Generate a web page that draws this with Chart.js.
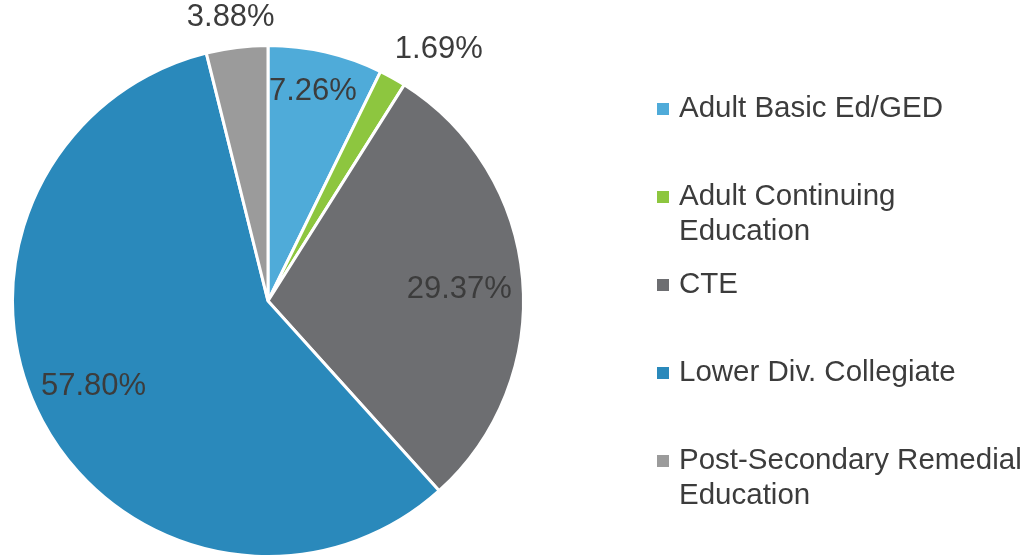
<!DOCTYPE html>
<html>
<head>
<meta charset="utf-8">
<script src="https://cdn.jsdelivr.net/npm/chart.js@4.4.1/dist/chart.umd.min.js"></script>
<style>
  body { margin: 0; background: #fff; }
  #wrap { width: 1026px; height: 558px; position: relative; }
</style>
</head>
<body>
<div id="wrap"><canvas id="myChart"></canvas></div>
<script>
const labels = [
  "Adult Basic Ed/GED",
  "Adult Continuing Education",
  "CTE",
  "Lower Div. Collegiate",
  "Post-Secondary Remedial Education",
];
const values = [7.26, 1.69, 29.37, 57.8, 3.88];
const colors = ["#4fabd9", "#8dc63f", "#6d6e71", "#2a89bb", "#9b9b9b"];

// where each percentage sits: fraction of the radius, and a nudge of the angle (deg)
const labelRadius = [0.84, 1.19, 0.75, 0.76, 1.12];
const labelNudge = [-1, 5, 1.5, 2, -0.5];

const textColor = "#3c3c3c";

const pctLabels = {
  id: "pctLabels",
  afterDatasetsDraw(chart) {
    const ctx = chart.ctx;
    const meta = chart.getDatasetMeta(0);
    ctx.save();
    ctx.font = "31px 'Liberation Sans', Arial, sans-serif";
    ctx.fillStyle = textColor;
    ctx.textAlign = "center";
    ctx.textBaseline = "middle";
    meta.data.forEach((arc, i) => {
      const p = arc.getProps(["x", "y", "startAngle", "endAngle", "outerRadius"], true);
      const a = (p.startAngle + p.endAngle) / 2 + labelNudge[i] * Math.PI / 180;
      const r = p.outerRadius * labelRadius[i];
      ctx.fillText(values[i].toFixed(2) + "%", p.x + r * Math.cos(a), p.y + r * Math.sin(a));
    });
    ctx.restore();
  },
};

const sideLegend = {
  id: "sideLegend",
  afterDraw(chart) {
    const ctx = chart.ctx;
    const x0 = 657, tx = 679, top = 109, step = 88, lineH = 35, maxW = 348;
    ctx.save();
    ctx.font = "29.5px 'Liberation Sans', Arial, sans-serif";
    ctx.textBaseline = "middle";
    labels.forEach((lab, i) => {
      const y = top + i * step;
      ctx.fillStyle = colors[i];
      ctx.fillRect(x0, y - 6, 12, 12);
      // wrap the text
      const words = lab.split(" ");
      const lines = [];
      let cur = "";
      words.forEach(w => {
        const t = cur ? cur + " " + w : w;
        if (ctx.measureText(t).width > maxW && cur) { lines.push(cur); cur = w; }
        else cur = t;
      });
      lines.push(cur);
      ctx.fillStyle = textColor;
      lines.forEach((ln, j) => ctx.fillText(ln, tx, y + j * lineH));
    });
    ctx.restore();
  },
};

const chart = new Chart(document.getElementById("myChart").getContext("2d"), {
  type: "pie",
  data: {
    labels: labels,
    datasets: [{
      data: values,
      backgroundColor: colors,
      borderColor: "#ffffff",
      borderWidth: 3,
    }],
  },
  options: {
    responsive: true,
    maintainAspectRatio: false,
    animation: false,
    layout: { padding: { left: 11, top: 44, right: 501, bottom: 0 } },
    plugins: {
      legend: { display: false },
      tooltip: { enabled: false },
    },
  },
  plugins: [pctLabels, sideLegend],
});
</script>
</body>
</html>
